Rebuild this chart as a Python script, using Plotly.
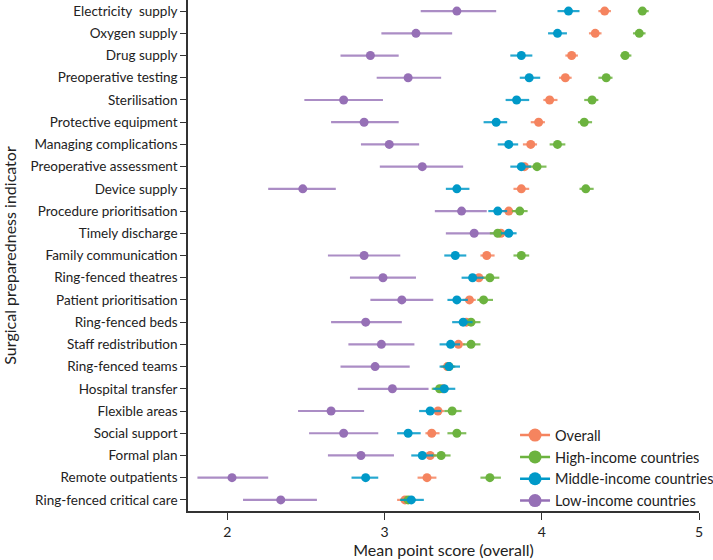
import plotly.graph_objects as go

indicators = [
    "Electricity  supply", "Oxygen supply", "Drug supply", "Preoperative testing",
    "Sterilisation", "Protective equipment", "Managing complications",
    "Preoperative assessment", "Device supply", "Procedure prioritisation",
    "Timely discharge", "Family communication", "Ring-fenced theatres",
    "Patient prioritisation", "Ring-fenced beds", "Staff redistribution",
    "Ring-fenced teams", "Hospital transfer", "Flexible areas", "Social support",
    "Formal plan", "Remote outpatients", "Ring-fenced critical care",
]

# mean, lower, upper for each income group
overall_mean = [4.40, 4.34, 4.19, 4.15, 4.05, 3.98, 3.93, 3.89, 3.87, 3.79, 3.74, 3.65,
                3.60, 3.54, 3.52, 3.47, 3.40, 3.37, 3.34, 3.30, 3.29, 3.27, 3.13]
overall_lo = [4.36, 4.30, 4.15, 4.11, 4.01, 3.93, 3.88, 3.85, 3.82, 3.74, 3.70, 3.61,
              3.56, 3.50, 3.48, 3.43, 3.36, 3.33, 3.30, 3.26, 3.25, 3.21, 3.08]
overall_hi = [4.44, 4.38, 4.23, 4.19, 4.10, 4.02, 3.97, 3.93, 3.92, 3.84, 3.78, 3.70,
              3.64, 3.58, 3.56, 3.51, 3.44, 3.41, 3.38, 3.35, 3.33, 3.33, 3.17]

high_mean = [4.64, 4.62, 4.53, 4.41, 4.32, 4.27, 4.10, 3.97, 4.28, 3.86, 3.72, 3.87,
             3.67, 3.63, 3.55, 3.55, 3.41, 3.35, 3.43, 3.46, 3.36, 3.67, 3.15]
high_lo = [4.61, 4.58, 4.50, 4.36, 4.27, 4.23, 4.05, 3.92, 4.24, 3.81, 3.67, 3.82,
           3.62, 3.59, 3.50, 3.50, 3.37, 3.30, 3.38, 3.40, 3.30, 3.61, 3.10]
high_hi = [4.68, 4.66, 4.57, 4.45, 4.36, 4.32, 4.15, 4.03, 4.33, 3.91, 3.77, 3.92,
           3.73, 3.69, 3.61, 3.61, 3.45, 3.39, 3.49, 3.52, 3.42, 3.74, 3.20]

middle_mean = [4.17, 4.10, 3.87, 3.92, 3.84, 3.71, 3.79, 3.87, 3.46, 3.72, 3.79, 3.45,
               3.56, 3.46, 3.50, 3.42, 3.41, 3.38, 3.29, 3.15, 3.24, 2.88, 3.17]
middle_lo = [4.10, 4.04, 3.80, 3.86, 3.77, 3.63, 3.72, 3.80, 3.39, 3.66, 3.74, 3.38,
             3.49, 3.40, 3.43, 3.35, 3.35, 3.31, 3.22, 3.08, 3.17, 2.79, 3.10]
middle_hi = [4.24, 4.16, 3.94, 3.99, 3.92, 3.78, 3.85, 3.93, 3.54, 3.78, 3.84, 3.52,
             3.63, 3.53, 3.56, 3.48, 3.48, 3.45, 3.36, 3.23, 3.31, 2.96, 3.25]

low_mean = [3.46, 3.20, 2.91, 3.15, 2.74, 2.87, 3.03, 3.24, 2.48, 3.49, 3.57, 2.87,
            2.99, 3.11, 2.88, 2.98, 2.94, 3.05, 2.66, 2.74, 2.85, 2.03, 2.34]
low_lo = [3.23, 2.98, 2.72, 2.95, 2.49, 2.66, 2.85, 2.97, 2.26, 3.32, 3.39, 2.64,
          2.78, 2.91, 2.66, 2.77, 2.72, 2.83, 2.45, 2.52, 2.64, 1.81, 2.10]
low_hi = [3.71, 3.43, 3.09, 3.36, 2.99, 3.09, 3.22, 3.50, 2.69, 3.65, 3.72, 3.10,
          3.20, 3.31, 3.11, 3.19, 3.16, 3.28, 2.87, 2.96, 3.06, 2.26, 2.57]

groups = [
    ("Overall", overall_mean, overall_lo, overall_hi, "#F5845F", "rgba(245,132,95,0.85)"),
    ("High-income countries", high_mean, high_lo, high_hi, "#6CB33F", "rgba(108,179,63,0.85)"),
    ("Middle-income countries", middle_mean, middle_lo, middle_hi, "#0099C8", "rgba(0,153,200,0.85)"),
    ("Low-income countries", low_mean, low_lo, low_hi, "#9670B6", "rgba(150,112,182,0.8)"),
]

fig = go.Figure()

# draw order: low first, then overall, high, middle on top
for idx in [3, 0, 1, 2]:
    name, m, lo, hi, col, ecol = groups[idx]
    fig.add_trace(go.Scatter(
        x=m, y=indicators, mode="markers", showlegend=False,
        marker=dict(color=col, size=9),
        error_x=dict(type="data", symmetric=False,
                     array=[h - v for h, v in zip(hi, m)],
                     arrayminus=[v - l for v, l in zip(m, lo)],
                     color=ecol, thickness=2.2, width=0),
    ))

# legend entries
for name, m, lo, hi, col, ecol in groups:
    fig.add_trace(go.Scatter(
        x=[None], y=[None], mode="lines+markers", name=name,
        marker=dict(color=col, size=13), line=dict(color=col, width=2.5),
    ))

fig.update_layout(
    width=713, height=560,
    margin=dict(l=188, r=14, t=0, b=49, autoexpand=False),
    plot_bgcolor="white", paper_bgcolor="white",
    font=dict(family="Lato", size=13.5, color="#222"),
    legend=dict(x=0.64, y=-0.012, xanchor="left", yanchor="bottom",
                font=dict(size=14.5), bgcolor="rgba(0,0,0,0)", itemwidth=30,
                tracegroupgap=0),
    xaxis=dict(range=[1.75, 5], tickvals=[2, 3, 4, 5], showgrid=False,
               showline=True, linecolor="#333", linewidth=1.5,
               ticks="outside", ticklen=7, tickcolor="#333", zeroline=False,
               tickfont=dict(size=14),
               title=dict(text="Mean point score (overall)", standoff=6)),
    yaxis=dict(categoryorder="array", categoryarray=indicators,
               range=[22.5, -0.5], showgrid=False,
               showline=True, linecolor="#333", linewidth=1.5,
               ticks="outside", ticklen=6, tickcolor="#333",
               title=dict(text="Surgical preparedness indicator", standoff=10)),
)

fig.write_html("out.html", config={"displayModeBar": False},
               post_script="document.body.style.margin='0';")
